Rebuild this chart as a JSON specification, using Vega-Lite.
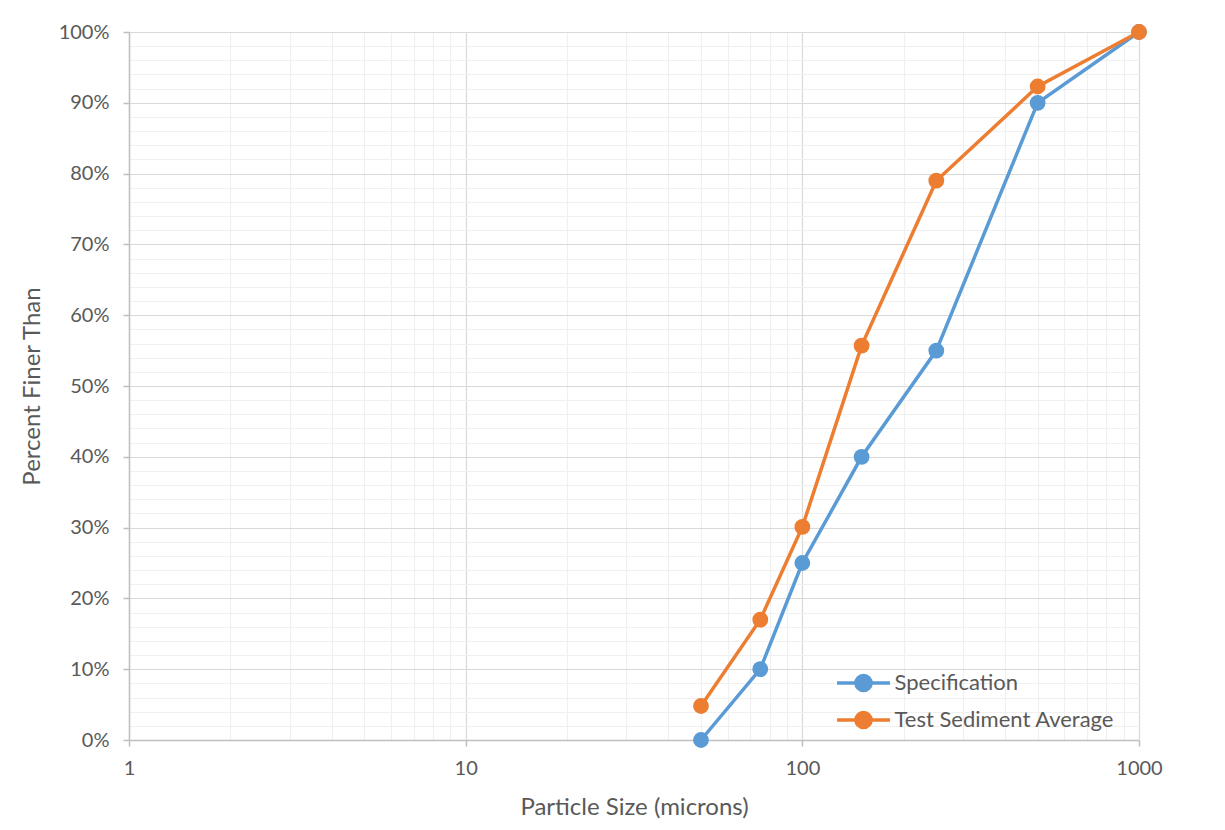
{
  "$schema": "https://vega.github.io/schema/vega-lite/v6.json",
  "width": 1010,
  "height": 708,
  "autosize": {"type": "none"},
  "padding": {"left": 129, "top": 32, "right": 86, "bottom": 90},
  "background": "white",
  "config": {"view": {"stroke": null}, "font": "Lato"},
  "data": {
    "values": [
      {"size": 50, "pct": 0, "series": "Specification"},
      {"size": 75, "pct": 10, "series": "Specification"},
      {"size": 100, "pct": 25, "series": "Specification"},
      {"size": 150, "pct": 40, "series": "Specification"},
      {"size": 250, "pct": 55, "series": "Specification"},
      {"size": 500, "pct": 90, "series": "Specification"},
      {"size": 1000, "pct": 100, "series": "Specification"},
      {"size": 50, "pct": 4.8, "series": "Test Sediment Average"},
      {"size": 75, "pct": 17, "series": "Test Sediment Average"},
      {"size": 100, "pct": 30.1, "series": "Test Sediment Average"},
      {"size": 150, "pct": 55.7, "series": "Test Sediment Average"},
      {"size": 250, "pct": 79, "series": "Test Sediment Average"},
      {"size": 500, "pct": 92.3, "series": "Test Sediment Average"},
      {"size": 1000, "pct": 100, "series": "Test Sediment Average"}
    ]
  },
  "mark": {"type": "line", "strokeWidth": 3.5, "point": {"filled": true, "size": 250, "opacity": 1}},
  "encoding": {
    "x": {
      "field": "size",
      "type": "quantitative",
      "scale": {"type": "log", "domain": [1, 1000]},
      "axis": {
        "title": "Particle Size (microns)",
        "values": [1,2,3,4,5,6,7,8,9,10,20,30,40,50,60,70,80,90,100,200,300,400,500,600,700,800,900,1000],
        "labelExpr": "(datum.value == 1 || datum.value == 10 || datum.value == 100 || datum.value == 1000) ? format(datum.value, 'd') : ''",
        "labelOverlap": false,
        "labelFlush": false,
        "labelFontSize": 20,
        "labelColor": "#595959",
        "labelPadding": 12,
        "titleFontSize": 24,
        "titleFontWeight": "normal",
        "titleColor": "#595959",
        "titlePadding": 17,
        "domainColor": "#bfbfbf",
        "domainWidth": 1.5,
        "tickSize": 6,
        "tickColor": "#bfbfbf",
        "tickWidth": 1.5,
        "tickOpacity": {"condition": {"test": "datum.value == 1 || datum.value == 10 || datum.value == 100 || datum.value == 1000", "value": 1}, "value": 0},
        "gridColor": {"condition": {"test": "datum.value == 1 || datum.value == 10 || datum.value == 100 || datum.value == 1000", "value": "#d9d9d9"}, "value": "#f0f0f0"},
        "gridWidth": 1.2
      }
    },
    "y": {
      "field": "pct",
      "type": "quantitative",
      "scale": {"domain": [0, 100]},
      "axis": {
        "title": "Percent Finer Than",
        "values": [0,2,4,6,8,10,12,14,16,18,20,22,24,26,28,30,32,34,36,38,40,42,44,46,48,50,52,54,56,58,60,62,64,66,68,70,72,74,76,78,80,82,84,86,88,90,92,94,96,98,100],
        "labelExpr": "datum.value % 10 == 0 ? datum.value + '%' : ''",
        "labelOverlap": false,
        "labelFlush": false,
        "labelFontSize": 20,
        "labelColor": "#595959",
        "labelPadding": 14,
        "titleFontSize": 24,
        "titleFontWeight": "normal",
        "titleColor": "#595959",
        "titlePadding": 14,
        "domainColor": "#bfbfbf",
        "domainWidth": 1.5,
        "tickSize": 6,
        "tickColor": "#bfbfbf",
        "tickWidth": 1.5,
        "tickOpacity": {"condition": {"test": "datum.value % 10 == 0", "value": 1}, "value": 0},
        "gridColor": {"condition": {"test": "datum.value % 10 == 0", "value": "#d9d9d9"}, "value": "#f0f0f0"},
        "gridWidth": 1.2
      }
    },
    "color": {
      "field": "series",
      "type": "nominal",
      "scale": {"domain": ["Specification", "Test Sediment Average"], "range": ["#5B9BD5", "#ED7D31"]},
      "legend": {
        "title": null,
        "orient": "none",
        "legendX": 714.5,
        "legendY": 631,
        "padding": 0,
        "rowPadding": 2,
        "symbolType": "M-1.47,0L1.47,0M-0.42,0A0.42,0.42,0,1,1,0.42,0A0.42,0.42,0,1,1,-0.42,0Z",
        "symbolSize": 1296,
        "symbolStrokeWidth": 3.5,
        "symbolOpacity": 1,
        "labelFontSize": 22,
        "labelColor": "#595959",
        "labelOffset": 11,
        "labelLimit": 400,
        "encode": {
          "symbols": {
            "update": {
              "fill": {"scale": "color", "field": "value"},
              "stroke": {"scale": "color", "field": "value"},
              "fillOpacity": {"value": 1},
              "strokeOpacity": {"value": 1}
            }
          }
        }
      }
    }
  }
}
